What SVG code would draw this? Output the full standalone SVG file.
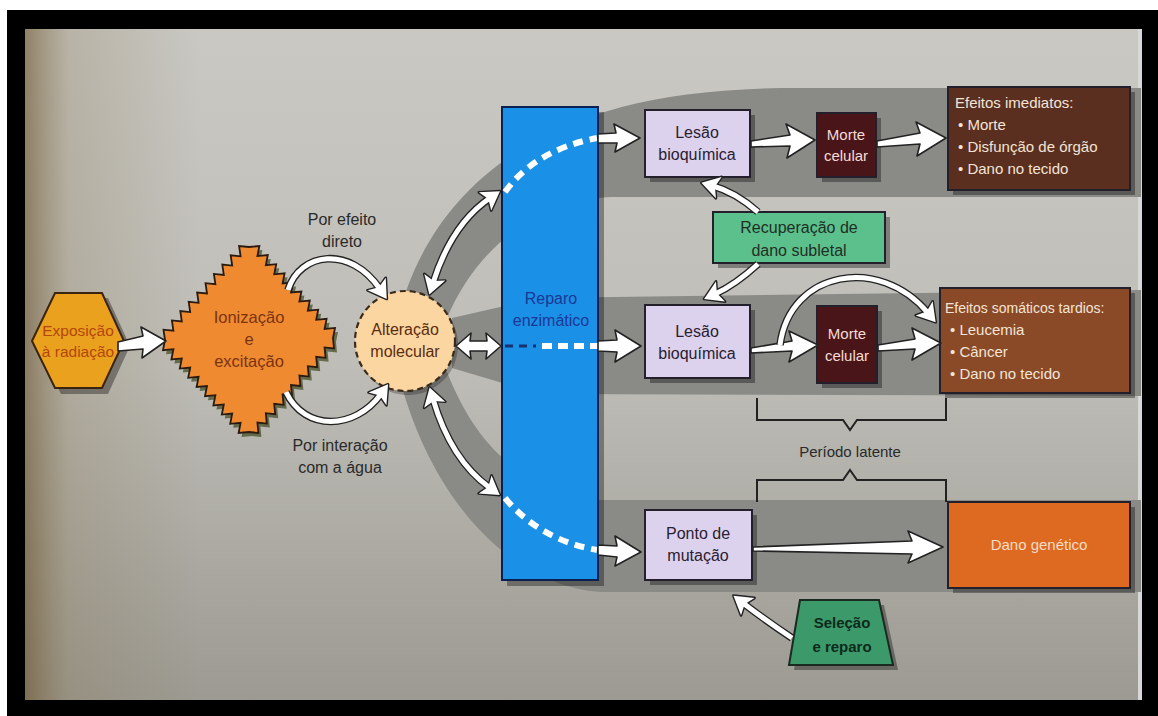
<svg xmlns="http://www.w3.org/2000/svg" width="1158" height="716" viewBox="0 0 1158 716">
<defs>
<style>
text{font-family:"Liberation Sans",Arial,sans-serif;text-anchor:middle}
.lbl{font-size:16px;fill:#2a2030}
.cap{font-size:16px;fill:#2a2a2a}
.mor{font-size:15px;fill:#f4dcd4}
.eff{font-size:15px;fill:#f3e4d6;text-anchor:start}
.box{stroke:#23202c;stroke-width:2}
.sh{fill:#000;opacity:.35}
.band{fill:#8a8a87}
.wa{fill:#fff;stroke:#222;stroke-width:1.6;stroke-linejoin:round}
.cd{fill:none;stroke:#222;stroke-width:7.6}
.cw{fill:none;stroke:#fff;stroke-width:5}
.brk{fill:none;stroke:#222;stroke-width:2}
</style>
<linearGradient id="bg" x1="0" y1="0" x2="0" y2="1">
<stop offset="0" stop-color="#c9c8c3"/><stop offset="0.5" stop-color="#bebdb7"/><stop offset="1" stop-color="#9c9a92"/>
</linearGradient>
<linearGradient id="lv" gradientUnits="userSpaceOnUse" x1="25" y1="0" x2="200" y2="0">
<stop offset="0" stop-color="#6a5028" stop-opacity="0.6"/><stop offset="0.25" stop-color="#857550" stop-opacity="0.25"/><stop offset="1" stop-color="#857550" stop-opacity="0"/>
</linearGradient>
<marker id="md" markerUnits="userSpaceOnUse" orient="auto-start-reverse" overflow="visible" markerWidth="1" markerHeight="1" refX="0" refY="0">
<path d="M12,0 L-6,-11 L-2,0 L-6,11 Z" fill="#222" stroke="#222" stroke-width="2.8" stroke-linejoin="round"/>
</marker>
<marker id="mw" markerUnits="userSpaceOnUse" orient="auto-start-reverse" overflow="visible" markerWidth="1" markerHeight="1" refX="0" refY="0">
<path d="M12,0 L-6,-11 L-2,0 L-6,11 Z" fill="#fff"/>
</marker>
<path id="c1" d="M 288 290 C 300 252, 350 245, 380 289"/>
<path id="c2" d="M 286 392 C 305 432, 355 430, 381 394"/>
<path id="c3" d="M 433 283 C 445 245, 465 215, 490 198"/>
<path id="c4" d="M 433 399 C 445 440, 465 470, 490 488"/>
<path id="c5" d="M 758 212 Q 735 192, 713 186"/>
<path id="c6" d="M 758 264 Q 735 285, 715 294"/>
<path id="c7" d="M 780 345 C 790 270, 880 255, 928 313"/>
<path id="c8" d="M 792 638 Q 765 620, 743 603"/>
</defs>

<!-- frame and page -->
<rect x="0" y="0" width="1158" height="716" fill="#fff"/>
<rect x="7" y="10" width="1151" height="706" fill="#000"/>
<rect x="25" y="29" width="1117" height="671" fill="url(#bg)"/>
<rect x="25" y="29" width="200" height="671" fill="url(#lv)"/>
<rect x="1138" y="29" width="4" height="671" fill="#d8d8dc"/>

<!-- gray bands -->
<g id="bands">
<path class="band" d="M 398 318 C 415 250, 455 190, 520 150 C 580 112, 660 90, 780 88 L 1141 88 L 1141 197 L 610 197 C 545 200, 480 240, 447 318 Z"/>
<path class="band" d="M 452 318 L 540 298 L 1141 290 L 1141 396 L 540 394 L 452 368 Z"/>
<path class="band" d="M 447 372 C 470 430, 510 490, 600 500 L 1141 500 L 1141 592 L 600 592 C 510 585, 430 500, 398 372 Z"/>
</g>

<!-- nodes -->
<g id="exposicao">
<polygon class="sh" points="38,346 61,298 108,298 130,346 108,394 61,394"/>
<polygon points="32,341 55,293 102,293 124,341 102,388 55,388" fill="#e9a11e" stroke="#3a2410" stroke-width="2"/>
<text x="78" y="336" style="font-size:15.5px;fill:#b4460e">Exposição</text>
<text x="78" y="357" style="font-size:15.5px;fill:#b4460e">à radiação</text>
</g>

<g id="ionizacao">
<path fill="#3e4a20" opacity="0.7" transform="translate(3,4)" d="M165,340 l-1.5,-10.3 l9.9,1 l-1.5,-10.3 l9.9,1 l-1.5,-10.3 l9.9,1 l-1.5,-10.3 l9.9,1 l-1.5,-10.3 l9.9,1 l-1.5,-10.3 l9.9,1 l-1.5,-10.3 l9.9,1 l-1.5,-10.3 l9.9,1 l-1.5,-10.3 l9.9,1 l-1.5,-10.3 l9.9,1 l10.4,-1 l-2,10.1 l10.4,-1 l-2,10.1 l10.4,-1 l-2,10.1 l10.4,-1 l-2,10.1 l10.4,-1 l-2,10.1 l10.4,-1 l-2,10.1 l10.4,-1 l-2,10.1 l10.4,-1 l-2,10.1 l10.4,-1 l-2,10.1 l10.4,-1 l-2,10.1 l1,10.4 l-9.4,-1 l1,10.4 l-9.4,-1 l1,10.4 l-9.4,-1 l1,10.4 l-9.4,-1 l1,10.4 l-9.4,-1 l1,10.4 l-9.4,-1 l1,10.4 l-9.4,-1 l1,10.4 l-9.4,-1 l1,10.4 l-9.4,-1 l1,10.4 l-9.4,-1 l-10.4,1 l2,-10.2 l-10.4,1 l2,-10.2 l-10.4,1 l2,-10.2 l-10.4,1 l2,-10.2 l-10.4,1 l2,-10.2 l-10.4,1 l2,-10.2 l-10.4,1 l2,-10.2 l-10.4,1 l2,-10.2 l-10.4,1 l2,-10.2 l-10.4,1 l2,-10.2 Z"/>
<path fill="#f08a30" stroke="#2a1a10" stroke-width="1.8" stroke-linejoin="miter" d="M165,340 l-1.5,-10.3 l9.9,1 l-1.5,-10.3 l9.9,1 l-1.5,-10.3 l9.9,1 l-1.5,-10.3 l9.9,1 l-1.5,-10.3 l9.9,1 l-1.5,-10.3 l9.9,1 l-1.5,-10.3 l9.9,1 l-1.5,-10.3 l9.9,1 l-1.5,-10.3 l9.9,1 l-1.5,-10.3 l9.9,1 l10.4,-1 l-2,10.1 l10.4,-1 l-2,10.1 l10.4,-1 l-2,10.1 l10.4,-1 l-2,10.1 l10.4,-1 l-2,10.1 l10.4,-1 l-2,10.1 l10.4,-1 l-2,10.1 l10.4,-1 l-2,10.1 l10.4,-1 l-2,10.1 l10.4,-1 l-2,10.1 l1,10.4 l-9.4,-1 l1,10.4 l-9.4,-1 l1,10.4 l-9.4,-1 l1,10.4 l-9.4,-1 l1,10.4 l-9.4,-1 l1,10.4 l-9.4,-1 l1,10.4 l-9.4,-1 l1,10.4 l-9.4,-1 l1,10.4 l-9.4,-1 l1,10.4 l-9.4,-1 l-10.4,1 l2,-10.2 l-10.4,1 l2,-10.2 l-10.4,1 l2,-10.2 l-10.4,1 l2,-10.2 l-10.4,1 l2,-10.2 l-10.4,1 l2,-10.2 l-10.4,1 l2,-10.2 l-10.4,1 l2,-10.2 l-10.4,1 l2,-10.2 l-10.4,1 l2,-10.2 Z"/>
<text x="249" y="323" style="font-size:16.5px;fill:#7a3410">Ionização</text>
<text x="249" y="345" style="font-size:16.5px;fill:#7a3410">e</text>
<text x="249" y="367" style="font-size:16.5px;fill:#7a3410">excitação</text>
</g>

<g id="alteracao">
<circle cx="408" cy="345" r="50" fill="#000" opacity="0.25"/>
<circle cx="405" cy="341" r="50" fill="#fcd6a0" stroke="#3a2a1a" stroke-width="2.2" stroke-dasharray="6 4"/>
<text x="405" y="335" style="font-size:16px;fill:#5a2c10">Alteração</text>
<text x="405" y="357" style="font-size:16px;fill:#5a2c10">molecular</text>
</g>

<g id="labels">
<text class="cap" x="342" y="225">Por efeito</text>
<text class="cap" x="342" y="247">direto</text>
<text class="cap" x="340" y="451">Por interação</text>
<text class="cap" x="340" y="473">com a água</text>
<text class="cap" x="850" y="457" style="font-size:15px">Período latente</text>
</g>

<g id="reparo">
<rect x="507" y="112" width="97" height="474" class="sh"/>
<rect x="502" y="107" width="96" height="473" fill="#1a90e6" stroke="#0a2050" stroke-width="2"/>
<text x="551" y="304" style="font-size:16px;fill:#1a3896">Reparo</text>
<text x="551" y="326" style="font-size:16px;fill:#1a3896">enzimático</text>
</g>

<g id="lesao1">
<rect x="650" y="115" width="105" height="67" class="sh"/>
<rect x="645" y="110" width="105" height="67" class="box" fill="#dcd2ee"/>
<text class="lbl" x="697" y="138">Lesão</text>
<text class="lbl" x="697" y="160">bioquímica</text>
</g>

<g id="morte1">
<rect x="822" y="118" width="59" height="64" class="sh"/>
<rect x="817" y="113" width="59" height="64" class="box" fill="#4a1519"/>
<text class="mor" x="846" y="140">Morte</text>
<text class="mor" x="846" y="161">celular</text>
</g>

<g id="efeitos-imediatos">
<rect x="953" y="92" width="182" height="103" class="sh"/>
<rect x="948" y="87" width="182" height="103" class="box" fill="#5a2f1f"/>
<text class="eff" x="955" y="108">Efeitos imediatos:</text>
<text class="eff" x="958" y="130">• Morte</text>
<text class="eff" x="958" y="152">• Disfunção de órgão</text>
<text class="eff" x="958" y="174">• Dano no tecido</text>
</g>

<g id="recuperacao">
<rect x="718" y="217" width="172" height="51" class="sh"/>
<rect x="713" y="212" width="172" height="51" class="box" fill="#5cc08c"/>
<text x="799" y="233" style="font-size:16px;fill:#1f2f25">Recuperação de</text>
<text x="799" y="256" style="font-size:16px;fill:#1f2f25">dano subletal</text>
</g>

<g id="lesao2">
<rect x="650" y="310" width="105" height="73" class="sh"/>
<rect x="645" y="305" width="105" height="73" class="box" fill="#dcd2ee"/>
<text class="lbl" x="697" y="337">Lesão</text>
<text class="lbl" x="697" y="359">bioquímica</text>
</g>

<g id="morte2">
<rect x="822" y="311" width="60" height="77" class="sh"/>
<rect x="817" y="306" width="60" height="77" class="box" fill="#4a1519"/>
<text class="mor" x="847" y="339">Morte</text>
<text class="mor" x="847" y="361">celular</text>
</g>

<g id="efeitos-tardios">
<rect x="945" y="293" width="190" height="105" class="sh"/>
<rect x="940" y="288" width="190" height="105" class="box" fill="#8a4a28"/>
<text class="eff" x="945" y="313" style="font-size:14px">Efeitos somáticos tardios:</text>
<text class="eff" x="950" y="335">• Leucemia</text>
<text class="eff" x="950" y="357">• Câncer</text>
<text class="eff" x="950" y="379">• Dano no tecido</text>
</g>

<g id="periodo">
<path class="brk" d="M 757 398 V 420 H 843 L 850 430 L 857 420 H 946 V 398"/>
<path class="brk" d="M 757 502 V 480 H 843 L 850 470 L 857 480 H 946 V 502"/>
</g>

<g id="ponto">
<rect x="650" y="515" width="107" height="70" class="sh"/>
<rect x="645" y="510" width="107" height="70" class="box" fill="#dcd2ee"/>
<text class="lbl" x="698" y="539">Ponto de</text>
<text class="lbl" x="698" y="561">mutação</text>
</g>

<g id="dano-genetico">
<rect x="953" y="507" width="182" height="86" class="sh"/>
<rect x="948" y="502" width="182" height="86" class="box" fill="#dd6a20"/>
<text x="1039" y="550" style="font-size:15px;fill:#f6dcc8">Dano genético</text>
</g>

<g id="selecao">
<polygon class="sh" points="805,605 884,605 898,670 794,670"/>
<polygon points="800,600 879,600 893,665 789,665" fill="#3c9a6a" stroke="#1a2a20" stroke-width="2"/>
<text x="842" y="628" style="font-size:15px;fill:#0e2a1c;font-weight:bold">Seleção</text>
<text x="842" y="652" style="font-size:15px;fill:#0e2a1c;font-weight:bold">e reparo</text>
</g>

<!-- connectors -->
<g id="connectors">
<path d="M 505 192 Q 535 150, 597 138" fill="none" stroke="#fff" stroke-width="6" stroke-dasharray="10 7"/>
<path d="M 505 346 H 536" fill="none" stroke="#17306e" stroke-width="3" stroke-dasharray="8 6"/>
<path d="M 542 346 H 598" fill="none" stroke="#fff" stroke-width="6" stroke-dasharray="10 6"/>
<path d="M 505 498 Q 540 540, 597 550" fill="none" stroke="#fff" stroke-width="6" stroke-dasharray="10 7"/>

<polygon class="wa" points="118,342 143,336 141,327 166,341 142,358 143,349 118,351"/>
<polygon class="wa" points="598,134 616,133 614,124 640,138 615,152 617,143 598,143"/>
<polygon class="wa" points="751,141 790,135 786,124 815,140 787,158 790,146 751,147"/>
<polygon class="wa" points="877,141 920,133 916,122 946,138 917,156 920,144 877,147"/>
<polygon class="wa" points="598,341 617,340 615,330 641,346 615,362 617,352 598,351"/>
<polygon class="wa" points="751,348 792,341 789,331 818,345 789,362 792,351 751,353"/>
<polygon class="wa" points="878,345 915,339 912,328 941,343 912,360 915,349 878,351"/>
<polygon class="wa" points="598,545 617,546 615,536 641,552 615,566 617,557 598,555"/>
<polygon class="wa" points="753,547 912,541 908,531 943,547 908,563 912,554 753,551"/>
<polygon class="wa" points="456,346 471,333 470,341 487,341 486,333 501,346 486,359 487,351 470,351 471,359"/>

<use href="#c1" class="cd" marker-end="url(#md)"/>
<use href="#c2" class="cd" marker-end="url(#md)"/>
<use href="#c3" class="cd" marker-start="url(#md)" marker-end="url(#md)"/>
<use href="#c4" class="cd" marker-start="url(#md)" marker-end="url(#md)"/>
<use href="#c5" class="cd" marker-end="url(#md)"/>
<use href="#c6" class="cd" marker-end="url(#md)"/>
<use href="#c7" class="cd" marker-end="url(#md)"/>
<use href="#c8" class="cd" marker-end="url(#md)"/>
<use href="#c1" class="cw" marker-end="url(#mw)"/>
<use href="#c2" class="cw" marker-end="url(#mw)"/>
<use href="#c3" class="cw" marker-start="url(#mw)" marker-end="url(#mw)"/>
<use href="#c4" class="cw" marker-start="url(#mw)" marker-end="url(#mw)"/>
<use href="#c5" class="cw" marker-end="url(#mw)"/>
<use href="#c6" class="cw" marker-end="url(#mw)"/>
<use href="#c7" class="cw" marker-end="url(#mw)"/>
<use href="#c8" class="cw" marker-end="url(#mw)"/>
</g>
</svg>
